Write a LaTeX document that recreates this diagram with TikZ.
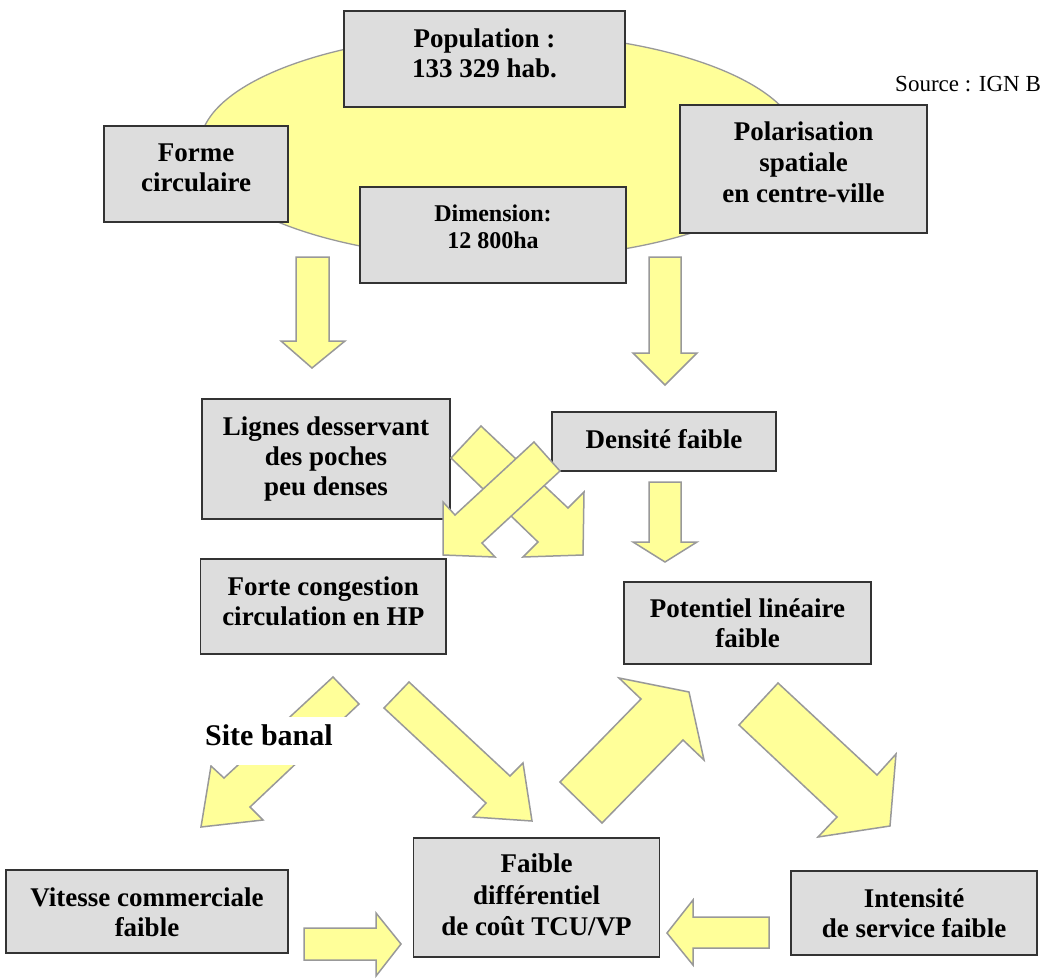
\documentclass[tikz,border=0pt]{standalone}
\usepackage{fontspec}
\setmainfont{Liberation Serif}
\definecolor{boxfill}{HTML}{DDDDDD}
\definecolor{boxline}{HTML}{333333}
\definecolor{arrowfill}{HTML}{FFFF99}
\definecolor{arrowline}{HTML}{999999}
\newcommand\boxfont{\bfseries\fontsize{27}{30}\selectfont}
\newcommand\dimfont{\bfseries\fontsize{24}{27}\selectfont}
\tikzset{
  boxnode/.style={draw=boxline, fill=boxfill, line width=1.8pt, inner sep=0pt, rectangle},
  boxtext/.style={align=center, font=\boxfont, inner sep=0pt},
  blockarrow/.style={draw=arrowline, fill=arrowfill, line width=1.5pt, line join=miter},
}
\begin{document}
\begin{tikzpicture}[x=1pt,y=-1pt]
\useasboundingbox (0,0) rectangle (1041,979);
\fill[white] (0,0) rectangle (1041,979);

% ellipse
\draw[draw=arrowline, fill=arrowfill, line width=1.3pt] (500,146) ellipse [x radius=300, y radius=113];

% top boxes
\node[boxnode, minimum width=281pt, minimum height=96pt] (pop) at (484.5,59) {};
\node[boxtext] (popt) at (484.5,53) {Population :\\133 329 hab.};
\node[boxnode, minimum width=184pt, minimum height=96pt] (forme) at (196,174) {};
\node[boxtext] (formet) at (196,168) {Forme\\circulaire};
\node[boxnode, minimum width=266pt, minimum height=96pt] (dim) at (493,235) {};
\node[boxtext, font=\dimfont] (dimt) at (493,226.5) {Dimension:\\12 800ha};
\node[boxnode, minimum width=247pt, minimum height=128pt] (pol) at (803.5,169) {};
\node[boxtext, font=\bfseries\fontsize{27}{31}\selectfont] (polt) at (803.5,162) {Polarisation\\spatiale\\en centre-ville};

\node[anchor=base west, inner sep=0pt, font=\fontsize{23}{27}\selectfont] (src) at (895,92) {Source : IGN B};

% middle boxes
\node[boxnode, minimum width=248pt, minimum height=120pt] (lig) at (326,459) {};
\node[boxtext] (ligt) at (326,458.8) {Lignes desservant\\des poches\\peu denses};
\node[boxnode, minimum width=224pt, minimum height=59pt] (dens) at (664,441.5) {};
\node[boxtext] (denst) at (664,439) {Densité faible};
\node[boxnode, minimum width=245.5pt, minimum height=95pt] (forte) at (323.25,606.5) {};
\node[boxtext] (fortet) at (323.25,601.3) {Forte congestion\\circulation en HP};
\node[boxnode, minimum width=247pt, minimum height=82pt] (pot) at (747.5,623) {};
\node[boxtext] (pott) at (747.5,622.8) {Potentiel linéaire\\faible};

% bottom boxes
\node[boxnode, minimum width=246pt, minimum height=119pt] (faib) at (536.5,897.5) {};
\node[boxtext, font=\bfseries\fontsize{27}{31.5}\selectfont] (faibt) at (536.5,895.3) {Faible\\différentiel\\de coût TCU/VP};
\node[boxnode, minimum width=282pt, minimum height=83pt] (vit) at (147,911.5) {};
\node[boxtext] (vitt) at (147,912.3) {Vitesse commerciale\\faible};
\node[boxnode, minimum width=246pt, minimum height=84pt] (int) at (914,913) {};
\node[boxtext] (intt) at (914,912.8) {Intensité\\de service faible};

% block arrows
\draw[blockarrow] (296,257) -- (329,257) -- (329,341) -- (345,341) -- (312,368) -- (281,341) -- (296,341) -- cycle;
\draw[blockarrow] (649,257) -- (681,257) -- (681,353) -- (697,353) -- (665,385) -- (633,353) -- (649,353) -- cycle;
\draw[blockarrow] (481,426) -- (568,508) -- (584,492) -- (583,555) -- (523,557) -- (538,542) -- (451,458) -- cycle;
\draw[blockarrow] (534,442) -- (560,471) -- (482,543) -- (495,557) -- (443,555) -- (443,502) -- (455,515) -- cycle;
\draw[blockarrow] (649,482) -- (681,482) -- (681,542) -- (697,542) -- (665,562) -- (633,542) -- (649,542) -- cycle;
\draw[blockarrow] (333,677) -- (359,704) -- (250,807) -- (263,820) -- (201,827) -- (211,766) -- (224,778) -- cycle;
\draw[blockarrow] (409,682) -- (510,776) -- (523,763) -- (532,821) -- (473,817) -- (486,803) -- (384,708) -- cycle;
\draw[blockarrow] (560,782) -- (641,699) -- (619,678) -- (689,692) -- (704,760) -- (683,740) -- (602,823) -- cycle;
\draw[blockarrow] (778,683) -- (877,775) -- (896,754) -- (890,826) -- (818,837) -- (837,817) -- (739,725) -- cycle;
\draw[blockarrow] (304,928) -- (376,928) -- (376,913) -- (401,944) -- (376,976) -- (376,960) -- (304,960) -- cycle;
\draw[blockarrow] (769,917) -- (693,917) -- (693,900) -- (667,933) -- (693,965) -- (693,948) -- (769,948) -- cycle;

% Site banal label with white mask
\node[fill=white, inner sep=0pt, minimum width=155pt, minimum height=48pt, anchor=north west] (sitemask) at (200,717) {};
\node[anchor=base west, inner sep=0pt, font=\bfseries\fontsize{30}{34}\selectfont] (site) at (205,745) {Site banal};
\end{tikzpicture}
\end{document}
